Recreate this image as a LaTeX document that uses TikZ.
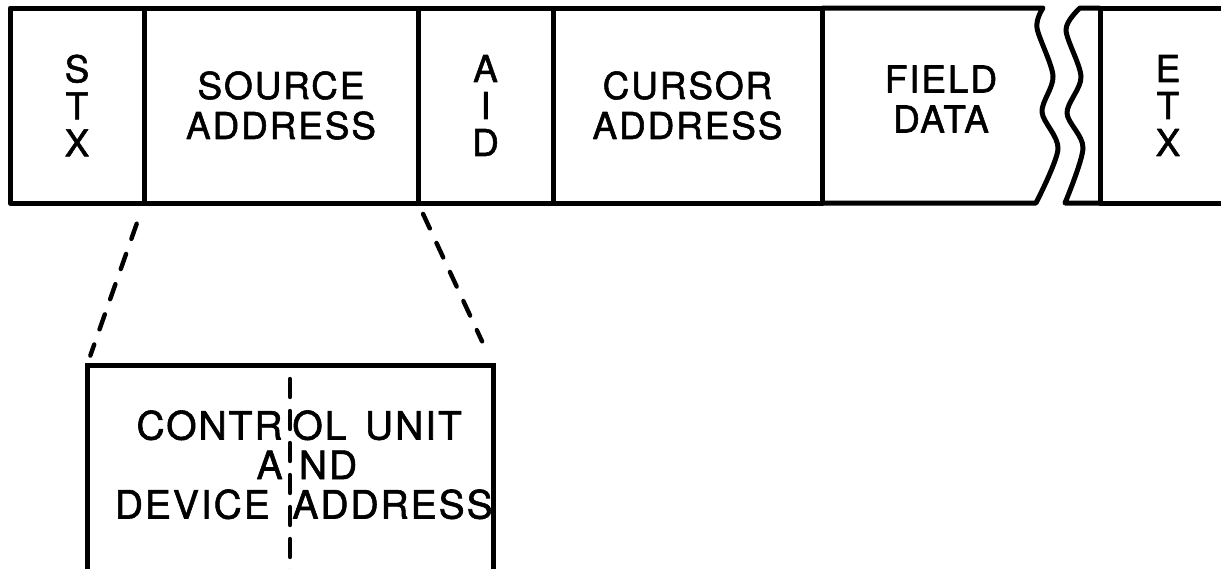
\documentclass[tikz,border=0pt]{standalone}
\usepackage{fontspec}
\newfontfamily\fieldfont{TeX Gyre Heros}[LetterSpace=5, FakeBold=1.5]
\tikzset{
  field/.style={draw, line width=2.5pt, line join=round, inner sep=0pt, outer sep=0pt,
    minimum height=97.5pt, align=center, font=\fieldfont\fontsize{18.5}{20}\selectfont},
  letters/.style={field, font=\fieldfont\fontsize{18.5}{18.5}\selectfont},
  band/.style={line width=2.5pt, line join=round},
  zoomline/.style={line width=2.2pt, line cap=round, dash pattern=on 8pt off 8pt},
  splitline/.style={line width=2.2pt, line cap=round, dash pattern=on 9pt off 7pt},
  detail/.style={draw, line width=2.5pt, inner sep=0pt, outer sep=0pt,
    minimum width=203pt, minimum height=117.5pt},
  detailtext/.style={inner sep=0pt, font=\fieldfont\fontsize{19.5}{19.75}\selectfont}
}
\begin{document}
\begin{tikzpicture}[x=0.5pt,y=-0.5pt]
  \useasboundingbox (0,0) rectangle (1221,568);

  % the record
  \node[letters, minimum width=67pt] (stx) at (77,105.5) {S\\T\\X};
  \node[field, minimum width=137pt] (src) at (281,105.5) {SOURCE\\ADDRESS};
  \node[letters, minimum width=67.5pt] (aid) at (485.5,105.5) {A\\I\\D};
  \node[field, minimum width=134.5pt] (cur) at (687.5,105.5) {CURSOR\\ADDRESS};
  \node[field, draw=none] (fld) at (941,99) {FIELD\\DATA};
  \node[letters, minimum width=68pt] (etx) at (1168,105.5) {E\\T\\X};

  % torn edges
  \draw[band] (cur.north east) -- plot[smooth] coordinates
    {(1043,8) (1037,28) (1053,76) (1042,112) (1058,149) (1036,203)} -- (cur.south east);
  \draw[band] (etx.north west) -- plot[smooth] coordinates
    {(1080,8) (1066,30) (1081,77) (1067,113) (1083,148) (1065,203)} -- (etx.south west);

  % expanded address
  \node[detail] (cu) at (290,482.5) {};
  \draw[zoomline, shorten <=11pt, shorten >=5pt] (src.south west) -- (cu.north west);
  \draw[zoomline, shorten <=6pt, shorten >=13pt] (src.south east) -- (cu.north east);
  \draw[splitline] ([yshift=-7pt]cu.north) -- (cu.south);
  \node[detailtext, anchor=north east, align=right] (culeft) at (283,410) {CONTR\\A\\\mbox{DEVICE\ }};
  \node[detailtext, anchor=north west, align=left] (curight) at (292,410) {OL\hspace{0.15em} UNIT\\\,ND\\ADDRESS};
\end{tikzpicture}
\end{document}
